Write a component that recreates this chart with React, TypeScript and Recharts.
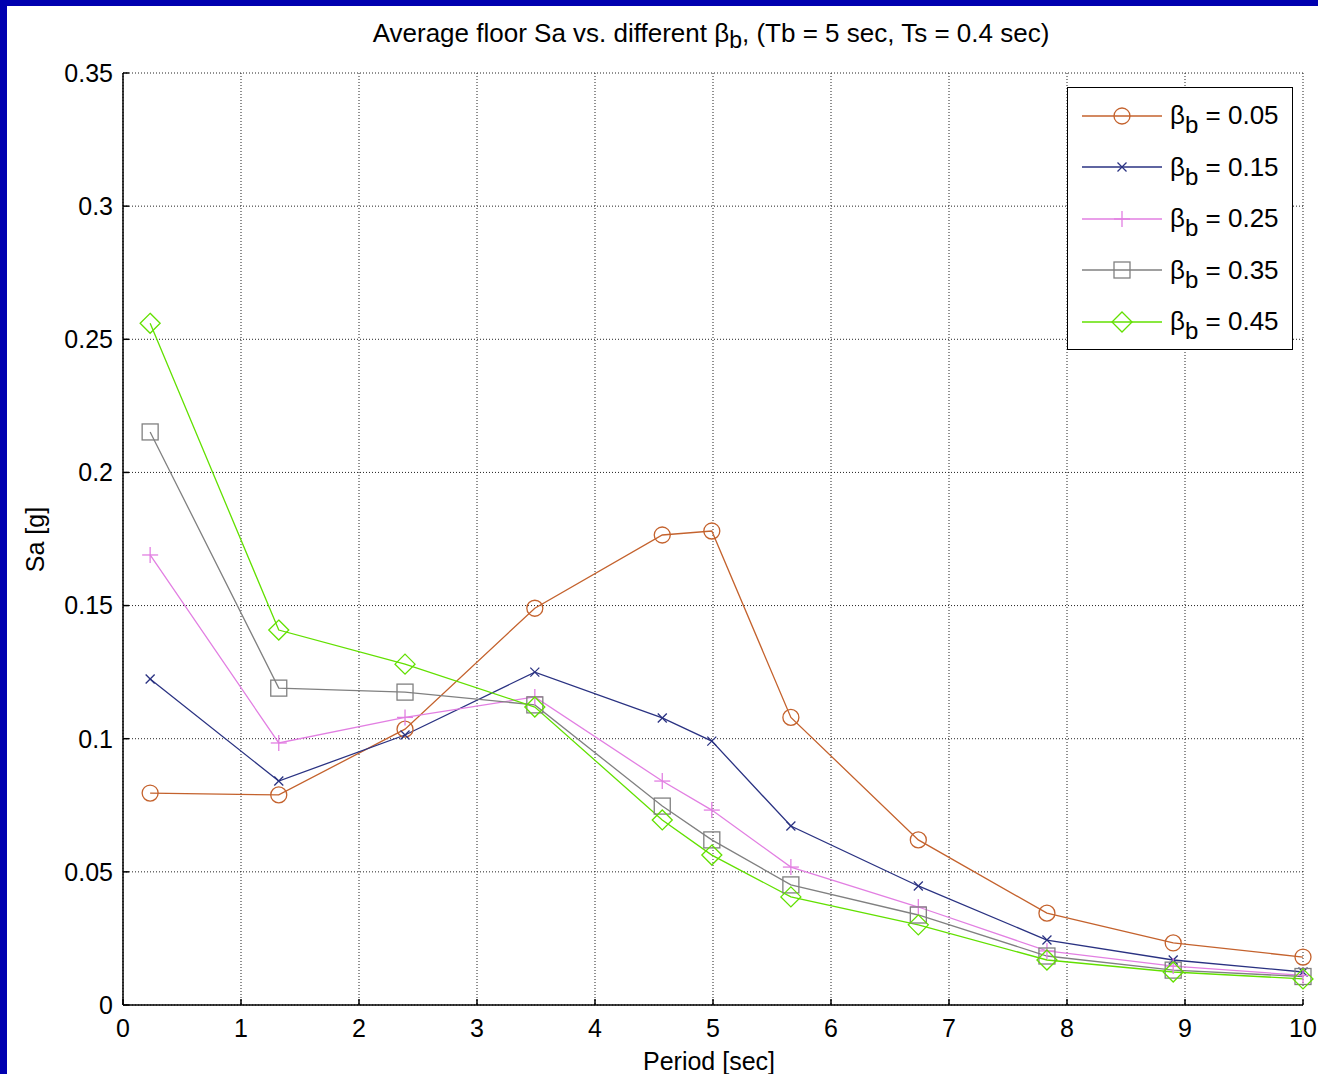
import React from 'react';
import { LineChart, Line, XAxis, YAxis, CartesianGrid, Legend } from 'recharts';

const periods = [0.23, 1.32, 2.39, 3.49, 4.57, 4.99, 5.66, 6.74, 7.83, 8.9, 10];
const beta005 = [0.0796, 0.0789, 0.1036, 0.149, 0.1765, 0.178, 0.108, 0.062, 0.0345, 0.0233, 0.018];
const beta015 = [0.1224, 0.0841, 0.1014, 0.125, 0.1078, 0.0991, 0.0672, 0.0447, 0.0244, 0.0169, 0.0124];
const beta025 = [0.169, 0.0984, 0.108, 0.1157, 0.0841, 0.0732, 0.0518, 0.0368, 0.0203, 0.0146, 0.0111];
const beta035 = [0.2152, 0.119, 0.1175, 0.1127, 0.0747, 0.062, 0.0451, 0.0338, 0.0184, 0.0131, 0.0107];
const beta045 = [0.256, 0.1408, 0.128, 0.1119, 0.0695, 0.0563, 0.0406, 0.0301, 0.0169, 0.0124, 0.0098];

const xTicks = [0, 1, 2, 3, 4, 5, 6, 7, 8, 9, 10];
const yTicks = [0, 0.05, 0.1, 0.15, 0.2, 0.25, 0.3, 0.35];
const seriesLabels = ['0.05', '0.15', '0.25', '0.35', '0.45'];

const FONT = '"Liberation Sans", Arial, sans-serif';

type MarkerKind = 'circle' | 'x' | 'plus' | 'square' | 'diamond';

const series: { key: string; color: string; marker: MarkerKind; values: number[] }[] = [
  { key: 'b005', color: '#c4622d', marker: 'circle', values: beta005 },
  { key: 'b015', color: '#2a3282', marker: 'x', values: beta015 },
  { key: 'b025', color: '#e27fe2', marker: 'plus', values: beta025 },
  { key: 'b035', color: '#808080', marker: 'square', values: beta035 },
  { key: 'b045', color: '#62e000', marker: 'diamond', values: beta045 },
];

const data = periods.map((p, i) => {
  const row: Record<string, number> = { period: p };
  series.forEach((s) => {
    row[s.key] = s.values[i];
  });
  return row;
});

function Marker({ kind, cx, cy, color }: { kind: MarkerKind; cx: number; cy: number; color: string }) {
  const sw = 1.3;
  switch (kind) {
    case 'circle':
      return <circle cx={cx} cy={cy} r={8} fill="none" stroke={color} strokeWidth={sw} />;
    case 'x':
      return (
        <g stroke={color} strokeWidth={sw}>
          <line x1={cx - 4.5} y1={cy - 4.5} x2={cx + 4.5} y2={cy + 4.5} />
          <line x1={cx - 4.5} y1={cy + 4.5} x2={cx + 4.5} y2={cy - 4.5} />
        </g>
      );
    case 'plus':
      return (
        <g stroke={color} strokeWidth={sw}>
          <line x1={cx} y1={cy - 8} x2={cx} y2={cy + 8} />
          <line x1={cx - 8} y1={cy} x2={cx + 8} y2={cy} />
        </g>
      );
    case 'square':
      return <rect x={cx - 8} y={cy - 8} width={16} height={16} fill="none" stroke={color} strokeWidth={sw} />;
    case 'diamond':
      return (
        <polygon
          points={`${cx},${cy - 10} ${cx + 10},${cy} ${cx},${cy + 10} ${cx - 10},${cy}`}
          fill="none"
          stroke={color}
          strokeWidth={sw}
        />
      );
  }
  return null;
}

const fmtY = (v: number) => String(v);

function LegendBox() {
  return (
    <div
      style={{
        width: 226,
        height: 263,
        border: '1px solid #000',
        background: '#fff',
        fontFamily: FONT,
        fontSize: 26,
        color: '#000',
        boxSizing: 'border-box',
        paddingTop: 2,
      }}
    >
      {series.map((s, i) => (
        <div key={s.key} style={{ display: 'flex', alignItems: 'center', height: 51.5 }}>
          <svg width={100} height={30} style={{ marginLeft: 14 }}>
            <line x1={0} y1={15} x2={80} y2={15} stroke={s.color} strokeWidth={1.3} />
            <Marker kind={s.marker} cx={40} cy={15} color={s.color} />
          </svg>
          <span style={{ marginLeft: -12, whiteSpace: 'nowrap' }}>
            β<sub style={{ fontSize: 24, verticalAlign: -9, lineHeight: 0 }}>b</sub> = {seriesLabels[i]}
          </span>
        </div>
      ))}
    </div>
  );
}

export default function App() {
  return (
    <div style={{ position: 'fixed', left: 0, top: 0, width: 1318, height: 1074, background: '#0000b0', overflow: 'hidden' }}>
      <div style={{ position: 'absolute', left: 7, top: 6, width: 1311, height: 1068, background: '#fff' }} />
      <div
        style={{
          position: 'absolute',
          left: 0,
          top: 18,
          width: 1422,
          textAlign: 'center',
          fontFamily: FONT,
          fontSize: 26,
          color: '#000',
          whiteSpace: 'nowrap',
        }}
      >
        Average floor Sa vs. different β<sub style={{ fontSize: 23, lineHeight: 0 }}>b</sub>, (Tb = 5 sec, Ts = 0.4 sec)
      </div>
      <div
        style={{
          position: 'absolute',
          left: 0,
          top: 1047,
          width: 1418,
          textAlign: 'center',
          fontFamily: FONT,
          fontSize: 25,
          color: '#000',
        }}
      >
        Period [sec]
      </div>
      <div
        style={{
          position: 'absolute',
          left: 35 - 60,
          top: 540 - 15,
          width: 120,
          textAlign: 'center',
          transform: 'rotate(-90deg)',
          fontFamily: FONT,
          fontSize: 25,
          color: '#000',
        }}
      >
        Sa [g]
      </div>
      <div style={{ position: 'absolute', left: 0, top: 0 }}>
        <LineChart width={1318} height={1074} data={data} margin={{ top: 73, right: 15, bottom: 29, left: 63 }}>
          <CartesianGrid stroke="#222" strokeDasharray="1 2" />
          <XAxis
            dataKey="period"
            type="number"
            domain={[0, 10]}
            ticks={xTicks}
            interval={0}
            height={40}
            stroke="#000"
            strokeWidth={1.5}
            tickSize={-6}
            tickMargin={20}
            tick={{ fill: '#000', fontSize: 25, fontFamily: FONT }}
          />
          <YAxis
            type="number"
            domain={[0, 0.35]}
            ticks={yTicks}
            interval={0}
            width={60}
            stroke="#000"
            strokeWidth={1.5}
            tickSize={-6}
            tickMargin={16}
            tickFormatter={fmtY}
            tick={{ fill: '#000', fontSize: 25, fontFamily: FONT }}
          />
          <Legend
            layout="vertical"
            verticalAlign="middle"
            align="center"
            content={() => <LegendBox />}
            wrapperStyle={{ position: 'absolute', left: 1067, top: 87, width: 226, height: 263 }}
          />
          {series.map((s) => (
            <Line
              key={s.key}
              dataKey={s.key}
              stroke={s.color}
              strokeWidth={1.3}
              isAnimationActive={false}
              dot={(p: any) => <Marker key={`${s.key}-${p.index}`} kind={s.marker} cx={p.cx} cy={p.cy} color={s.color} />}
              activeDot={false}
            />
          ))}
        </LineChart>
      </div>
    </div>
  );
}
